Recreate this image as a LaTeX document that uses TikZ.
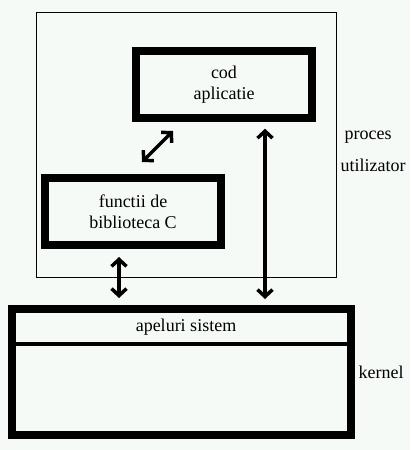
\documentclass[tikz,border=0pt]{standalone}
\usepackage{fontspec}
\setmainfont{Liberation Serif}
\usetikzlibrary{arrows.meta}
\definecolor{bgcol}{RGB}{245,250,247}
\tikzset{
  boxa/.style={draw, line width=7.5pt, minimum width=176pt, minimum height=67pt, align=center, inner sep=0pt},
  dblarrow/.style={line width=3.5pt, {Straight Barb[length=7pt,width=15pt]}-{Straight Barb[length=7pt,width=15pt]}},
  lbl/.style={font=\fontsize{18}{21}\selectfont}
}
\begin{document}
\begin{tikzpicture}[x=1pt,y=-1pt,every node/.style={font=\fontsize{18}{21}\selectfont}]
\fill[bgcol] (0,0) rectangle (410,450);
\useasboundingbox (0,0) rectangle (410,450);
\draw[line width=1pt] (36,12) rectangle (336,277);
\node[boxa] (app) at (224,84.5) {cod\\ aplicatie};
\node[boxa] (lib) at (133,211.5) {functii de\\biblioteca C};
\node[draw, line width=8pt, minimum width=339pt, minimum height=126pt, inner sep=0pt] (kern) at (181.5,372) {};
\draw[line width=4pt] (12,344) -- (351,344);
\node (sys) at (186,327) {apeluri sistem};
\node[lbl, anchor=west] (proc) at (341,137) {proces};
\node[lbl, anchor=west] (util) at (337,165) {utilizator};
\node[lbl, anchor=west] (kl) at (355,372) {kernel};
\coordinate (d1) at (142,162);
\coordinate (d2) at (173,131);
\coordinate (v1) at (119,257);
\coordinate (v2) at (119,298);
\draw[dblarrow] (d1) -- (d2);
\draw[dblarrow] (v1) -- (v2);
\draw[dblarrow, shorten <=7pt, shorten >=6pt] (app.south -| 265,0) -- (kern.north -| 265,0);
\end{tikzpicture}
\end{document}
